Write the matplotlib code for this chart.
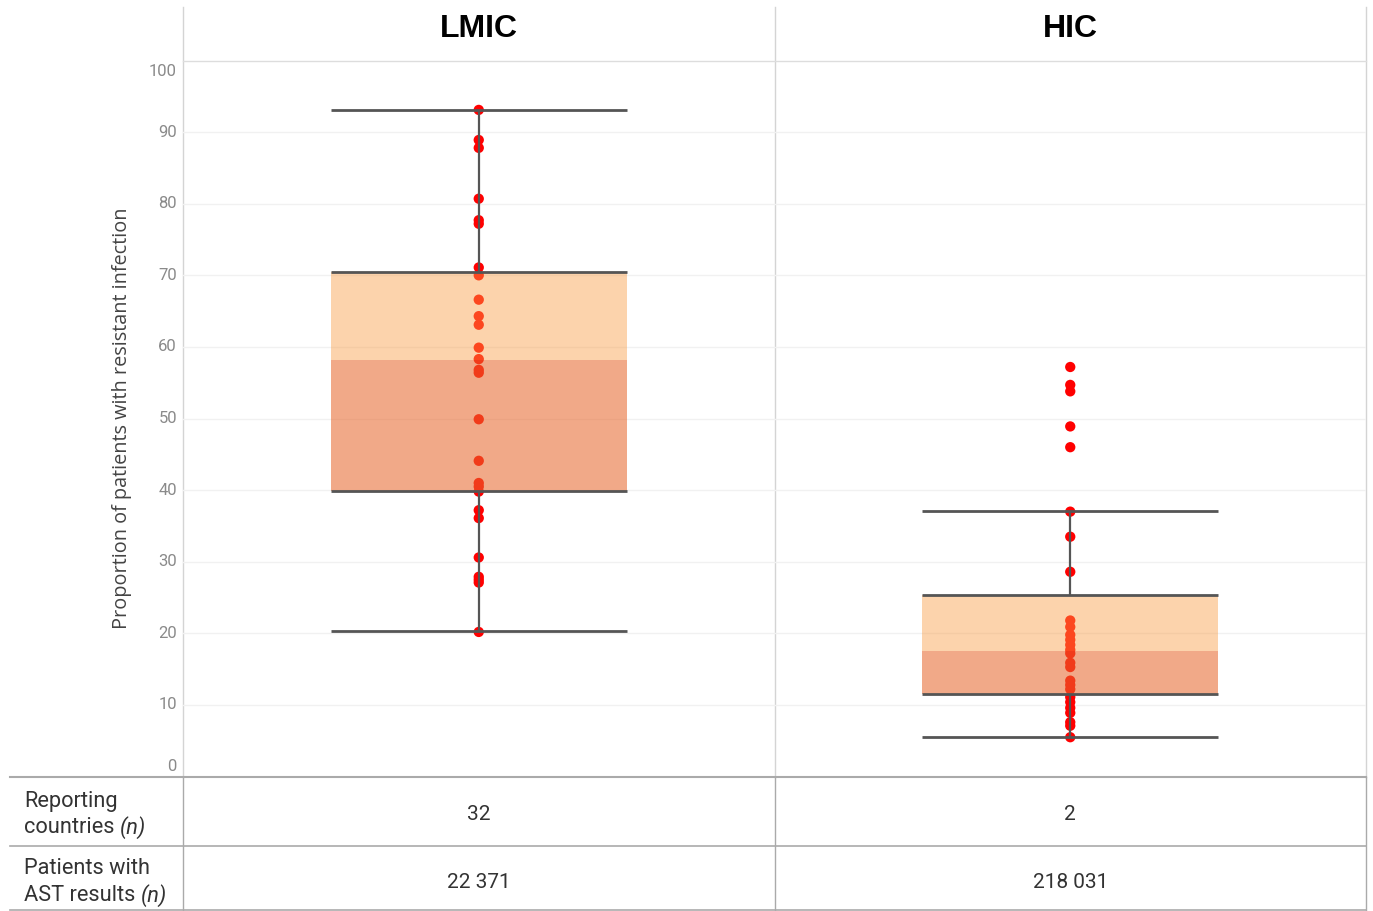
import matplotlib
matplotlib.use("Agg")
import matplotlib.pyplot as plt
from matplotlib.lines import Line2D
import matplotlib.transforms as mtransforms

# ---------------- data ----------------
groups = ["LMIC", "HIC"]
reporting_countries = ["32", "2"]
patients_ast = ["22 371", "218 031"]

lmic_points = [93.1, 88.9, 87.8, 80.7, 77.7, 77.2, 71.1, 70.0, 66.6, 64.3, 63.1,
               59.9, 58.3, 56.8, 56.4, 49.9, 44.1, 41.0, 40.5, 39.8, 37.2, 36.1,
               30.6, 27.9, 27.5, 27.1, 20.2]
hic_points = [57.2, 54.7, 53.8, 48.9, 46.0, 37.0, 33.5, 28.6, 21.8, 20.9, 19.8,
              19.1, 18.4, 17.7, 17.2, 15.9, 15.3, 13.4, 12.8, 12.2, 11.1, 10.4,
              9.6, 8.9, 7.6, 7.1, 5.5]

whisker_low = [20.3, 5.5]
q1 = [39.9, 11.5]
median = [58.2, 17.5]
q3 = [70.4, 25.3]
whisker_high = [93.1, 37.05]

yticks = [0, 10, 20, 30, 40, 50, 60, 70, 80, 90, 100]
ylabel = "Proportion of patients with resistant infection"
row_labels = [("Reporting", "countries "), ("Patients with", "AST results ")]

# ---------------- figure ----------------
W, H, DPI = 1373, 911, 100
fig = plt.figure(figsize=(W / DPI, H / DPI), dpi=DPI)
fig.patch.set_facecolor("white")

def fx(px):
    return px / W

def fy(py):
    return 1 - py / H

# overlay for header & table (drawn below main axes)
ov = fig.add_axes([0, 0, 1, 1])
ov.set_xlim(0, W)
ov.set_ylim(H, 0)
ov.axis("off")
ov.set_zorder(0)

y_top_px, y_bot_px = 60.5, 776.6
x_left_px, x_right_px = 183, 1366
ax = fig.add_axes([fx(x_left_px), fy(y_bot_px), fx(x_right_px) - fx(x_left_px),
                   fy(y_top_px) - fy(y_bot_px)])
ax.set_zorder(1)
ax.patch.set_alpha(0)
ax.set_xlim(0, len(groups))
ax.set_ylim(0, 100)
for s in ax.spines.values():
    s.set_visible(False)
ax.set_xticks([])
ax.set_yticks([])

# gridlines
for v in yticks[1:-1]:
    ax.axhline(v, color="#f1f1f1", lw=1.0, zorder=0)

all_points = [lmic_points, hic_points]
box_w = 0.5
light_col = (249 / 255, 158 / 255, 71 / 255)
dark_col = (232 / 255, 105 / 255, 46 / 255)
edge = "#555555"

for i, g in enumerate(groups):
    xc = i + 0.5
    pts = all_points[i]
    ax.scatter([xc] * len(pts), pts, s=55, color="#ff0000", edgecolors="none", zorder=2)
    ax.bar(xc, q3[i] - median[i], bottom=median[i], width=box_w, color=light_col,
           alpha=0.45, linewidth=0, zorder=3)
    ax.bar(xc, median[i] - q1[i], bottom=q1[i], width=box_w, color=dark_col,
           alpha=0.57, linewidth=0, zorder=3)
    ax.vlines(xc, q3[i], whisker_high[i], color=edge, lw=1.6, zorder=4)
    ax.vlines(xc, whisker_low[i], q1[i], color=edge, lw=1.6, zorder=4)
    for v in (whisker_low[i], q1[i], q3[i], whisker_high[i]):
        ax.hlines(v, xc - box_w / 2, xc + box_w / 2, color=edge, lw=2.0, zorder=4)

# y tick labels
trans = mtransforms.blended_transform_factory(ax.transAxes, ax.transData)
for v in yticks:
    off = 0
    if v == 100:
        off = -11.5
    elif v == 0:
        off = 10.5
    t = trans + mtransforms.ScaledTranslation(-6 / DPI, off / DPI, fig.dpi_scale_trans)
    ax.text(0, v, str(v), transform=t, ha="right", va="center", fontsize=12,
            family="Roboto", color="#8a8a8a")

# y label
fig.text(fx(122), fy(418), ylabel, rotation=90, ha="center", va="center",
         fontsize=14.3, family="Open Sans", color="#444444")

# grid frame lines
for x in (183, 775, 1366):
    ov.add_line(Line2D([x, x], [7, 777], color="#d4d4d4", lw=1.0))
    ov.add_line(Line2D([x, x], [777, 911], color="#aaaaaa", lw=1.0))
ov.add_line(Line2D([183, 1366], [61, 61], color="#dddddd", lw=1.0))
ov.add_line(Line2D([10, 1366], [777, 777], color="#aaaaaa", lw=1.5))
ov.add_line(Line2D([10, 1366], [845.5, 845.5], color="#aaaaaa", lw=1.2))
ov.add_line(Line2D([10, 1366], [910, 910], color="#aaaaaa", lw=1.2))

# headers
for i, g in enumerate(groups):
    cx = 183 + (i + 0.5) * 591.5
    ov.text(cx, 29, g, ha="center", va="center", fontsize=23, fontweight="bold",
            family="Liberation Sans", color="black")

# table
row_centers = [813, 881]
values = [reporting_countries, patients_ast]
fs = 15
fs_lab = 15.7
for r, (l1, l2) in enumerate(row_labels):
    yc = row_centers[r]
    ov.text(24, yc - 12, l1, ha="left", va="center", fontsize=fs_lab, family="Roboto",
            color="#333333")
    t2 = ov.text(24, yc + 14.5, l2, ha="left", va="center", fontsize=fs_lab,
                 family="Roboto", color="#333333")
    fig.canvas.draw()
    bb = t2.get_window_extent()
    ov.text(bb.x1, yc + 14.5, "(n)", ha="left", va="center", fontsize=fs_lab,
            family="Roboto", style="italic", color="#333333")
    for i in range(len(groups)):
        cx = 183 + (i + 0.5) * 591.5
        ov.text(cx, yc + 1, values[r][i], ha="center", va="center", fontsize=fs,
                family="Roboto", color="#333333")

fig.savefig("out.png", dpi=DPI, facecolor="white")
